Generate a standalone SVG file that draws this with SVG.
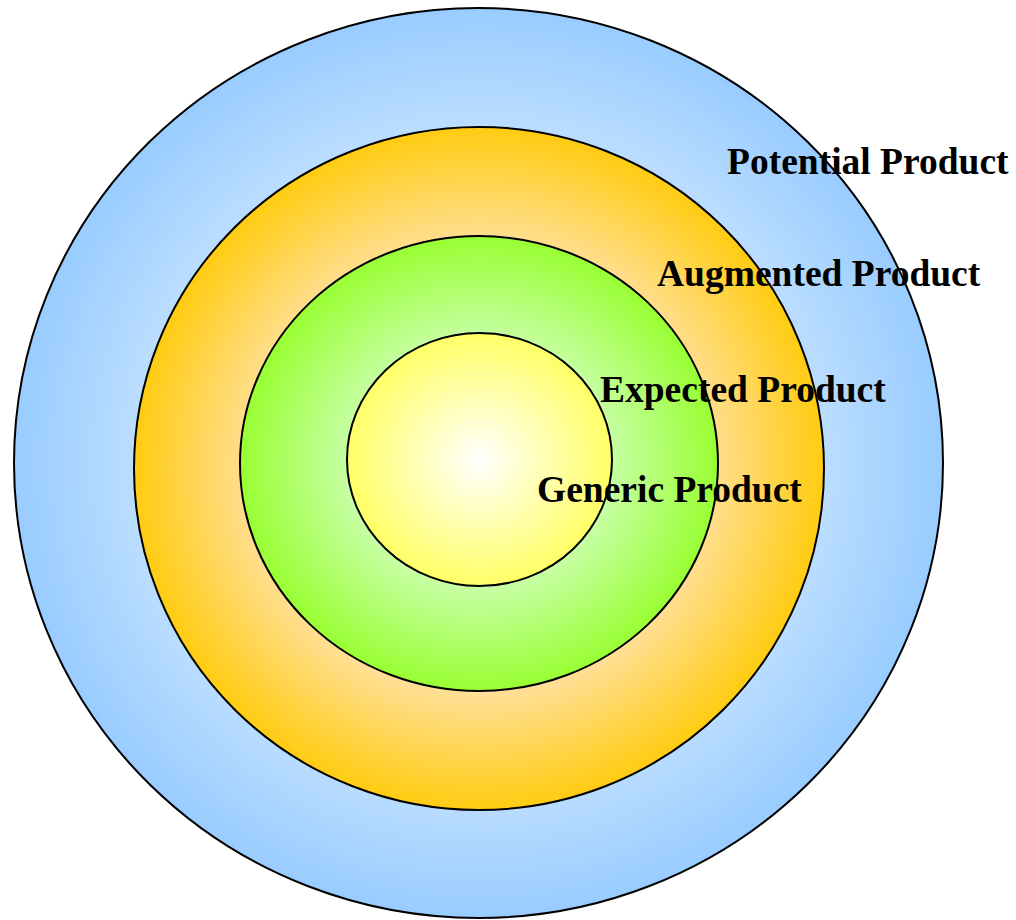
<svg xmlns="http://www.w3.org/2000/svg" width="1016" height="920" viewBox="0 0 1016 920">
<defs>
<radialGradient id="gBlue" cx="50%" cy="50%" r="50%"><stop offset="0" stop-color="#ffffff"/><stop offset="0.55" stop-color="#d4eaff"/><stop offset="1" stop-color="#99ccff"/></radialGradient>
<radialGradient id="gOrange" cx="50%" cy="50%" r="50%"><stop offset="0" stop-color="#ffffff"/><stop offset="0.65" stop-color="#ffe09a"/><stop offset="1" stop-color="#ffcc11"/></radialGradient>
<radialGradient id="gGreen" cx="50%" cy="50%" r="50%"><stop offset="0" stop-color="#ffffff"/><stop offset="0.5" stop-color="#ccffb0"/><stop offset="1" stop-color="#99ff33"/></radialGradient>
<radialGradient id="gYellow" cx="50%" cy="50%" r="50%"><stop offset="0" stop-color="#ffffff"/><stop offset="1" stop-color="#ffff66"/></radialGradient>
</defs>
<style>
.ring{stroke:#000;stroke-width:2}
.lbl{font-family:"Liberation Serif","Times New Roman",serif;font-weight:bold;font-size:37.5px;fill:#000}
</style>
<g id="potential"><ellipse class="ring" cx="478.5" cy="463" rx="464.5" ry="455" fill="url(#gBlue)"/></g>
<g id="augmented"><ellipse class="ring" cx="479" cy="468.5" rx="345" ry="341.5" fill="url(#gOrange)"/></g>
<g id="expected"><ellipse class="ring" cx="479" cy="463.5" rx="239" ry="227.5" fill="url(#gGreen)"/></g>
<g id="generic"><ellipse class="ring" cx="479.5" cy="459.5" rx="132.5" ry="126.5" fill="url(#gYellow)"/></g>
<g id="labels">
<text class="lbl" x="727" y="174">Potential Product</text>
<text class="lbl" x="657" y="286">Augmented Product</text>
<text class="lbl" x="600" y="401.5">Expected Product</text>
<text class="lbl" x="537" y="501.5">Generic Product</text>
</g>
<g id="connectors"/>
</svg>
